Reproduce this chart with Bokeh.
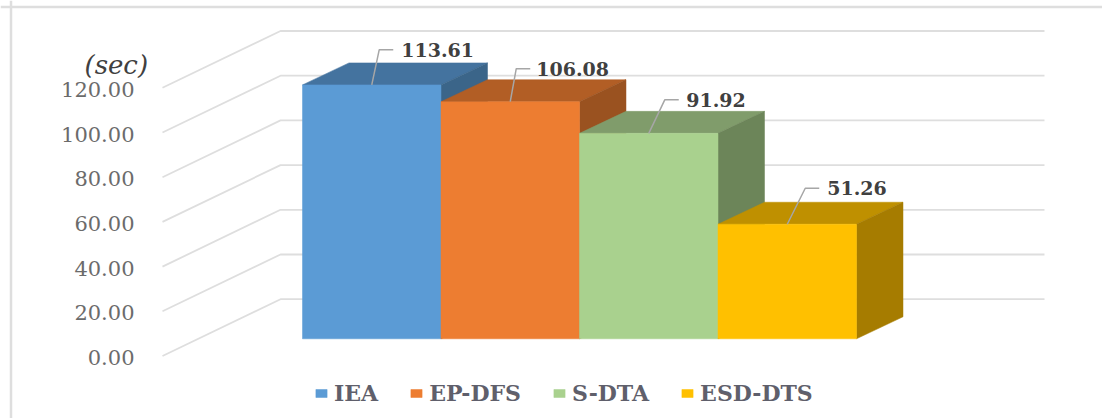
from bokeh.plotting import figure
from bokeh.embed import file_html
from bokeh.resources import INLINE
from bokeh.models import Range1d, LinearAxis, FixedTicker, NumeralTickFormatter, Legend, LegendItem, Span
from bokeh.core.properties import value

# ---- data
categories = ["IEA", "EP-DFS", "S-DTA", "ESD-DTS"]
times = [113.61, 106.08, 91.92, 51.26]
y_ticks = [0, 20, 40, 60, 80, 100, 120]
unit_label = "(sec)"

# ---- colours
front_colors = ["#5B9BD5", "#ED7D31", "#A9D18E", "#FFC000"]
top_colors = ["#44739F", "#B25E25", "#809C6B", "#BF9000"]
side_colors = ["#3B6589", "#9A5220", "#6C8559", "#A67C00"]
GRID = "#DEDEDE"
LEADER = "#A6A6A6"

# ---- layout / projection, in reference page pixels
W, H = 1102, 418
PAGE = 0
BAR_PX = 138.5           # width of one bar
BAR_X0 = 302.0           # left edge of the first bar
BASE_Y = 338.3           # page y of value 0 on the bars' front
PX_PER_UNIT = 2.235      # page pixels per second
BAR_DX, BAR_DY = 46.5, 22.0
FLOOR_FRONT_X, FLOOR_BACK_X, GRID_END_X = 162.0, 280.0, 1044.0
FLOOR_FRONT_DY, FLOOR_BACK_DY = 17.2, -39.6
TICK_LABEL_DY = 1.5

def X(px):
    return (px - BAR_X0) / BAR_PX
def dX(px):
    return px / BAR_PX
def dY(px):
    return px / PX_PER_UNIT
def Y(py):
    return (BASE_Y - py) / PX_PER_UNIT

p = figure(width=W, height=H, output_backend="svg", toolbar_location=None,
           x_axis_type=None, y_axis_type=None, min_border=0,
           x_range=Range1d(X(PAGE), X(PAGE + W)),
           y_range=Range1d(Y(PAGE + H), Y(PAGE)),
           outline_line_color=None, background_fill_color="white", border_fill_color="white")
p.grid.visible = False

# chart frame (top and left edges)
p.add_layout(Span(location=Y(6.5), dimension="width", line_color=GRID, line_width=2.5))
p.add_layout(Span(location=X(10.5), dimension="height", line_color=GRID, line_width=2.5))

# 3D gridlines: wall + floor segment per tick
p.multi_line(
    xs=[[X(FLOOR_FRONT_X), X(FLOOR_BACK_X), X(GRID_END_X)] for _ in y_ticks],
    ys=[[t - dY(FLOOR_FRONT_DY), t - dY(FLOOR_BACK_DY), t - dY(FLOOR_BACK_DY)] for t in y_ticks],
    line_color=GRID, line_width=1.8)

# value axis, set on the front edge of the floor
tick_shift = dY(FLOOR_FRONT_DY + TICK_LABEL_DY)
p.extra_y_ranges["ticks"] = Range1d(Y(PAGE + H) + tick_shift, Y(PAGE) + tick_shift)
axis = LinearAxis(y_range_name="ticks", ticker=FixedTicker(ticks=y_ticks),
                  formatter=NumeralTickFormatter(format="0.00"),
                  fixed_location=X(140), axis_line_color=None,
                  major_tick_line_color=None, minor_tick_line_color=None,
                  major_label_standoff=0, major_label_text_font="DejaVu Serif",
                  major_label_text_font_size="21px", major_label_text_color="#6B6B6B")
p.add_layout(axis, "left")

p.text(x=[X(84)], y=[Y(64)], text=[unit_label], text_font=value("DejaVu Serif"),
       text_font_style="italic", text_font_size="26px", text_color="#404040",
       text_baseline="middle", text_align="left")

# bars, left to right so that each one covers the side of the last
depth_x, depth_y = dX(BAR_DX), dY(BAR_DY)
items = []
for i, (name, v) in enumerate(zip(categories, times)):
    p.patch([i, i + depth_x, i + 1 + depth_x, i + 1], [v, v + depth_y, v + depth_y, v],
            fill_color=top_colors[i], line_color=top_colors[i], line_width=0.5)
    p.patch([i + 1, i + 1 + depth_x, i + 1 + depth_x, i + 1], [0, depth_y, v + depth_y, v],
            fill_color=side_colors[i], line_color=side_colors[i], line_width=0.5)
    r = p.vbar(x=[i + 0.5], top=[v], bottom=0, width=1, fill_color=front_colors[i],
               line_color=front_colors[i], line_width=0.5)
    items.append(LegendItem(label=name, renderers=[r]))

# leader lines and value labels
elbow_dx = [7.5, 6.0, 16.0, 18.0]
run_px = 14.0
rise_px = [35.2, 33.0, 33.5, 36.0]
label_gap = [8.0, 6.0, 7.5, 8.0]
for i, v in enumerate(times):
    xc = i + 0.5
    top = v + dY(rise_px[i])
    p.line([xc, xc + dX(elbow_dx[i]), xc + dX(elbow_dx[i] + run_px)], [v, top, top],
           line_color=LEADER, line_width=1.5)
    p.text(x=[xc + dX(elbow_dx[i] + run_px + label_gap[i])], y=[top], text=[f"{v:.2f}"],
           text_font=value("DejaVu Serif"), text_font_style="bold", text_font_size="19px",
           text_color="#404040", text_baseline="middle", text_align="left")

legend = Legend(items=items, orientation="horizontal", location=(314, 12),
                background_fill_alpha=0, border_line_color=None, padding=0, margin=0,
                spacing=31, glyph_width=14, glyph_height=10, label_standoff=6,
                label_text_font="DejaVu Serif", label_text_font_style="bold",
                label_text_font_size="22px", label_text_color="#5F5F6B")
p.add_layout(legend, "center")

open("out.html", "w").write(file_html(p, INLINE))
